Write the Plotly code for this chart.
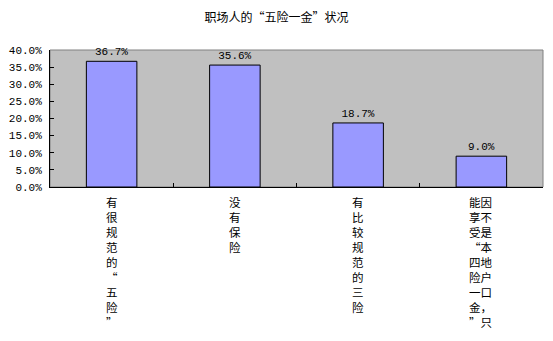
import plotly.graph_objects as go

title = "职场人的“五险一金”状况"
categories = ["有很规范的“五险”", "没有保险", "有比较规范的三险", "因不是本地户口，只能享受“四险一金”"]
values = [0.367, 0.356, 0.187, 0.090]
y_ticks = [0, 0.05, 0.10, 0.15, 0.20, 0.25, 0.30, 0.35, 0.40]

MAXLINES = 9

def vertical(label):
    cols = [label[i:i + MAXLINES] for i in range(0, len(label), MAXLINES)]
    # columns read right-to-left
    cols = cols[::-1]
    rows = []
    for r in range(MAXLINES):
        row = "".join(c[r] if r < len(c) else "\u3000" for c in cols)
        if row.strip("\u3000"):
            rows.append(row)
    return "<br>".join(rows)

cjk = "Noto Sans CJK SC"
mono = "Liberation Mono"

fig = go.Figure()
fig.add_trace(go.Bar(
    x=categories, y=values,
    marker=dict(color="#9999FF", line=dict(color="black", width=1)),
    width=0.41,
    texttemplate="%{y:.1%}", textposition="outside",
    textfont=dict(family=mono, size=11, color="black"),
    cliponaxis=False,
))

annotations = []
for c in categories:
    annotations.append(dict(
        x=c, xref="x", y=0, yref="paper", yshift=-5,
        text=vertical(c), showarrow=False, xanchor="center", yanchor="top",
        align="center",
        font=dict(family=cjk, size=11.5, color="black"),
    ))

fig.update_layout(
    width=553, height=341,
    margin=dict(l=50, r=10, t=50, b=154),
    paper_bgcolor="white", plot_bgcolor="#C0C0C0",
    title=dict(text=title, x=0.5, xanchor="center", y=1 - 18 / 341, yanchor="middle",
               font=dict(family=cjk, size=12, color="black")),
    showlegend=False,
    bargap=0.59,
    annotations=annotations,
    xaxis=dict(showticklabels=False, ticks="inside", ticklen=4, tickcolor="black",
               tickson="boundaries", showline=True, linecolor="black", linewidth=1,
               showgrid=False, range=[-0.5, 3.5], zeroline=False),
    yaxis=dict(range=[0, 0.4], tickvals=y_ticks, tickformat=".1%", ticks="inside",
               ticklen=4, tickcolor="black", showline=True, linecolor="black",
               linewidth=1, showgrid=False, zeroline=False, ticklabelstandoff=5,
               tickfont=dict(family=mono, size=11, color="black")),
    shapes=[dict(type="rect", xref="paper", yref="paper", x0=0, x1=1, y0=0, y1=1,
                 line=dict(color="#808080", width=1), layer="below")],
)

fig.write_html("out.html")
